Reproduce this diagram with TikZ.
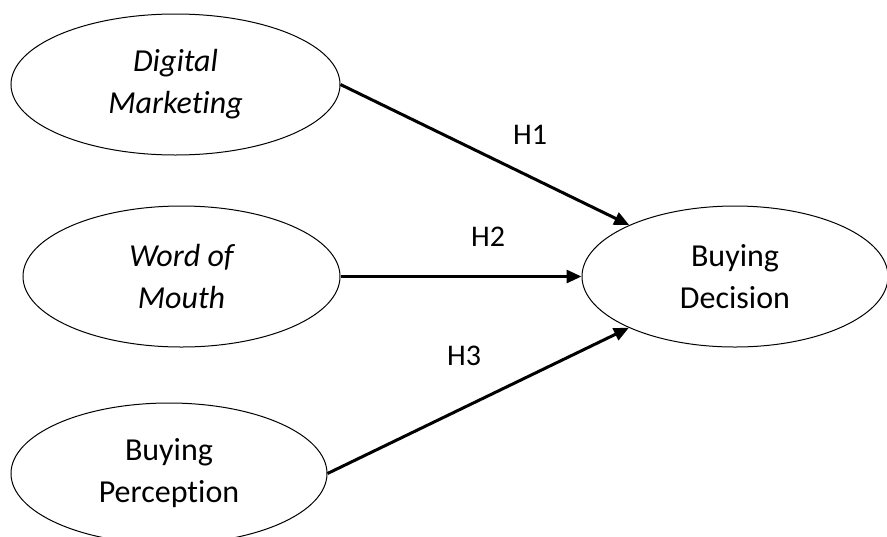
\documentclass[tikz,border=0pt]{standalone}
\usepackage{fontspec}
\setmainfont{Carlito}[Ligatures=NoCommon]
\usetikzlibrary{shapes.geometric,arrows.meta}

\begin{document}
\begin{tikzpicture}[x=0.5pt,y=-0.5pt,
		var/.style={ellipse,draw,line width=0.5pt,inner sep=0pt,minimum width=#1,minimum height=70.5pt,align=center,font=\fontsize{16}{21}\selectfont},
		hyp/.style={font=\fontsize{15}{18}\selectfont},
		link/.style={-{Triangle[length=7.5pt,width=6.5pt]},line width=1.5pt}]
		
		\useasboundingbox (0,0) rectangle (887,536);
		
		\node(dm) at (175.5,84.5)[var=164.5pt]{\itshape Digital\\\itshape Marketing};
		\node(wom) at (181.5,276.5)[var=158.5pt]{\itshape Word of\\\itshape Mouth};
		\node(bp) at (169,473.5)[var=158pt]{Buying\\Perception};
		\node(bd) at (735,276.5)[var=153pt]{Buying\\Decision};
		
		\node(h1) at (530,135)[hyp]{H1};
		\node(h2) at (488,237)[hyp]{H2};
		\node(h3) at (464,356)[hyp]{H3};
		
		\draw[link] (dm.east) -- (bd);
		\draw[link] (wom.east) -- (bd);
		\draw[link] (bp.east) -- (bd);
		
	\end{tikzpicture}
\end{document}
